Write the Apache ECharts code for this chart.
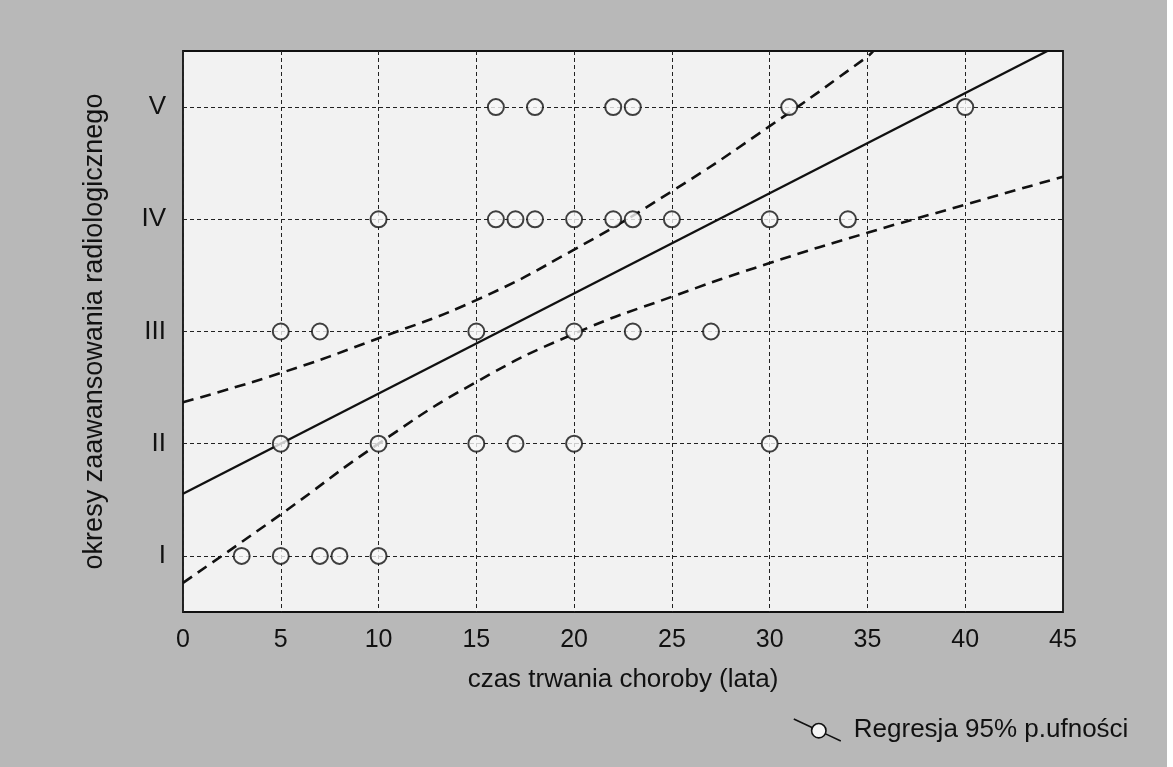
<!DOCTYPE html>
<html>
<head>
<meta charset="utf-8">
<script src="https://cdn.jsdelivr.net/npm/echarts@6/dist/echarts.min.js"></script>
<style>
  html, body { margin: 0; padding: 0; background: #ffffff; }
  #chart { width: 1167px; height: 767px; }
</style>
</head>
<body>
<div id="chart"></div>
<script>
// ---- data ----
const stageLabels = ['I', 'II', 'III', 'IV', 'V'];
const xTickLabels = ['0', '5', '10', '15', '20', '25', '30', '35', '40', '45'];

// disease duration (years) of patients at each radiological stage
const stageI   = [3, 5, 7, 8, 10];
const stageII  = [5, 10, 15, 17, 20, 30];
const stageIII = [5, 7, 15, 20, 23, 27];
const stageIV  = [10, 16, 17, 18, 20, 22, 23, 25, 30, 34];
const stageV   = [16, 18, 22, 23, 31, 40];

// regression line (x, y) read at its ends
const regressionX = [0, 44.2];
const regressionY = [1.554, 5.5];

// 95% confidence band
const upperX = [0, 5, 10, 15, 20, 25, 30, 35, 35.3];
const upperY = [2.37, 2.63, 2.94, 3.28, 3.73, 4.25, 4.83, 5.45, 5.5];
const lowerX = [0, 5, 10, 15, 20, 25, 30, 35, 40, 45];
const lowerY = [0.76, 1.37, 2.0, 2.55, 2.98, 3.31, 3.61, 3.88, 4.13, 4.38];

const legendName = 'Regresja 95% p.ufności';

// ---- build ----
const pointData = [];
[stageI, stageII, stageIII, stageIV, stageV].forEach((arr, i) => {
  arr.forEach(x => pointData.push([x, i + 1]));
});
const zip = (xs, ys) => xs.map((x, i) => [x, ys[i]]);

const FONT = "'Liberation Sans', Arial, Helvetica, sans-serif";
const chart = echarts.init(document.getElementById('chart'), null, { renderer: 'canvas' });

const legendIcon = 'path://M0,0L18.2,8.5M31.8,14.9L47,22M32.2,11.7A7.2,7.2,0,1,1,17.8,11.7A7.2,7.2,0,1,1,32.2,11.7Z';

chart.setOption({
  backgroundColor: '#b8b8b8',
  animation: false,
  textStyle: { fontFamily: FONT },
  grid: {
    left: 183, top: 51, right: 104, bottom: 155,
    show: true,
    backgroundColor: '#f2f2f2',
    borderColor: '#111',
    borderWidth: 1.8
  },
  legend: {
    left: 788, top: 712,
    itemWidth: 47, itemHeight: 22,
    selectedMode: false,
    data: [{
      name: legendName,
      icon: legendIcon,
      itemStyle: { color: '#f4f4f4', borderColor: '#111', borderWidth: 1.6 }
    }],
    textStyle: { fontSize: 26, color: '#111', fontFamily: FONT, padding: [0, 0, 0, 8] }
  },
  xAxis: {
    type: 'value',
    min: 0, max: 45, interval: 5,
    name: 'czas trwania choroby (lata)',
    nameLocation: 'middle',
    nameGap: 55,
    nameTextStyle: { fontSize: 26, color: '#111', fontFamily: FONT },
    axisLine: { show: false },
    axisTick: { show: false },
    axisLabel: {
      fontSize: 25, color: '#111', margin: 16, fontFamily: FONT,
      formatter: v => xTickLabels[Math.round(v / 5)] ?? ''
    },
    splitLine: { show: true, lineStyle: { color: '#222', width: 1, type: [4, 3] } }
  },
  yAxis: {
    type: 'value',
    min: 0.5, max: 5.5, interval: 0.5,
    name: 'okresy zaawansowania radiologicznego',
    nameLocation: 'middle',
    nameRotate: 90,
    nameGap: 75,
    nameTextStyle: { fontSize: 27, color: '#111', fontFamily: FONT },
    axisLine: { show: false },
    axisTick: { show: false },
    axisLabel: {
      fontSize: 26, color: '#111', margin: 17, fontFamily: FONT,
      formatter: v => (Number.isInteger(v) ? stageLabels[v - 1] : '')
    },
    splitLine: { show: true, lineStyle: { color: ['rgba(0,0,0,0)', '#222'], width: 1, type: [4, 3] } }
  },
  series: [
    {
      name: 'górna granica',
      type: 'line',
      data: zip(upperX, upperY),
      smooth: 0.5,
      showSymbol: false,
      z: 3,
      lineStyle: { color: '#111', width: 2.6, type: [11, 7] }
    },
    {
      name: 'dolna granica',
      type: 'line',
      data: zip(lowerX, lowerY),
      smooth: 0.5,
      showSymbol: false,
      z: 3,
      lineStyle: { color: '#111', width: 2.6, type: [11, 7] }
    },
    {
      name: legendName,
      type: 'line',
      data: zip(regressionX, regressionY),
      showSymbol: false,
      z: 3,
      lineStyle: { color: '#111', width: 2.4 },
      itemStyle: { color: '#111' }
    },
    {
      name: 'pacjenci',
      type: 'scatter',
      data: pointData,
      symbol: 'circle',
      symbolSize: 16,
      z: 5,
      itemStyle: { color: '#f7f7f7', borderColor: '#111', borderWidth: 2 }
    }
  ]
});
</script>
</body>
</html>
